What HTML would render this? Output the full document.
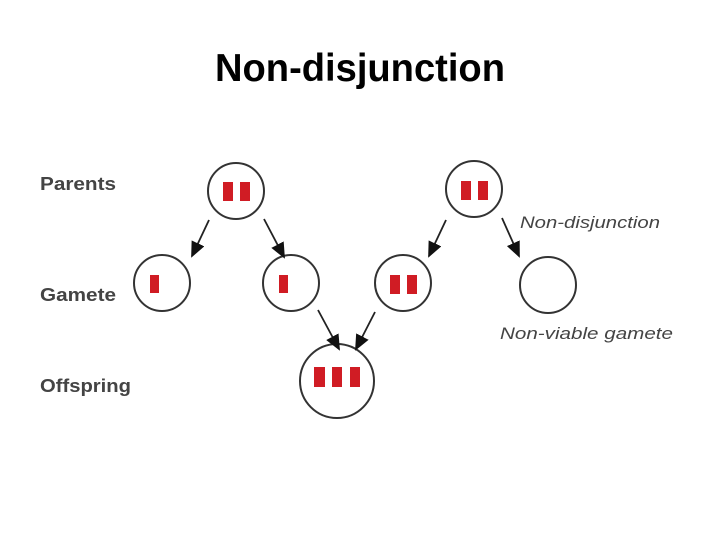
<!DOCTYPE html>
<html><head><style>body{margin:0;background:#fff}</style></head><body>
<svg width="720" height="540" xmlns="http://www.w3.org/2000/svg">
<defs><marker id="a" markerWidth="16" markerHeight="14" refX="14" refY="7" orient="auto" markerUnits="userSpaceOnUse"><path d="M0,0 L16,7 L0,14 z" fill="#111"/></marker></defs>
<text x="360" y="81" text-anchor="middle" font-family="Liberation Sans, sans-serif" font-size="39" font-weight="bold" fill="#000" textLength="290" lengthAdjust="spacingAndGlyphs">Non-disjunction</text>
<g font-family="Liberation Sans, sans-serif" font-size="18" font-weight="bold" fill="#444">
<text x="40" y="190" textLength="76" lengthAdjust="spacingAndGlyphs">Parents</text>
<text x="40" y="301" textLength="76" lengthAdjust="spacingAndGlyphs">Gamete</text>
<text x="40" y="392" textLength="91" lengthAdjust="spacingAndGlyphs">Offspring</text>
</g>
<g font-family="Liberation Sans, sans-serif" font-size="17" font-style="italic" fill="#444">
<text x="520" y="228" textLength="140" lengthAdjust="spacingAndGlyphs">Non-disjunction</text>
<text x="500" y="339" textLength="173" lengthAdjust="spacingAndGlyphs">Non-viable gamete</text>
</g>
<g fill="none" stroke="#333" stroke-width="2">
<circle cx="236" cy="191" r="28"/><circle cx="474" cy="189" r="28"/>
<circle cx="162" cy="283" r="28"/><circle cx="291" cy="283" r="28"/>
<circle cx="403" cy="283" r="28"/><circle cx="548" cy="285" r="28"/>
<circle cx="337" cy="381" r="37"/>
</g>
<g fill="#d01c24">
<rect x="223" y="182" width="10" height="19"/><rect x="240" y="182" width="10" height="19"/>
<rect x="461" y="181" width="10" height="19"/><rect x="478" y="181" width="10" height="19"/>
<rect x="150" y="275" width="9" height="18"/><rect x="279" y="275" width="9" height="18"/>
<rect x="390" y="275" width="10" height="19"/><rect x="407" y="275" width="10" height="19"/>
<rect x="314" y="367" width="11" height="20"/><rect x="332" y="367" width="10" height="20"/><rect x="350" y="367" width="10" height="20"/>
</g>
<g stroke="#222" stroke-width="1.8" marker-end="url(#a)">
<line x1="209" y1="220" x2="192" y2="256"/><line x1="264" y1="219" x2="284" y2="257"/>
<line x1="446" y1="220" x2="429" y2="256"/><line x1="502" y1="218" x2="519" y2="256"/>
<line x1="318" y1="310" x2="339" y2="349"/><line x1="375" y1="312" x2="356" y2="349"/>
</g>
</svg>
</body></html>
